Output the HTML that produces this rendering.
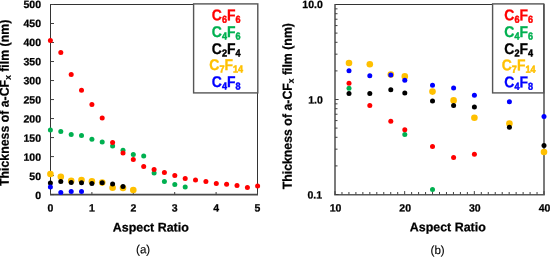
<!DOCTYPE html>
<html lang="en"><head><meta charset="utf-8"><title>a-CFx film thickness vs aspect ratio</title>
<style>
html,body{margin:0;padding:0;background:#fff}
body{width:550px;height:260px;overflow:hidden}
svg{display:block;will-change:transform}
text{font-family:"Liberation Sans",sans-serif}
.tk{font-size:10.5px;font-weight:700;stroke:#000;stroke-width:.25px}
.tt{font-size:12.45px;font-weight:700;stroke:#000;stroke-width:.25px}
.yt{font-size:13px;font-weight:700;stroke:#000;stroke-width:.25px}
.cp{font-size:11.6px;stroke:#000;stroke-width:.12px}
.lg{font-size:15.5px;font-weight:700;stroke-width:.3px}
.sb{font-size:10.1px;stroke-width:.5px}
.sb2{font-size:8.8px}
</style></head><body>
<svg width="550" height="260" viewBox="0 0 550 260">
<rect width="550" height="260" fill="#fff"/>
<path d="M50.0 4.5H258.0" fill="none" stroke="#333" stroke-width="1"/>
<path d="M50.5 4.5V194.7" fill="none" stroke="#333" stroke-width="1"/>
<path d="M257.5 4.5V194.7" fill="none" stroke="#333" stroke-width="1"/>
<path d="M50.0 194.7H258.0" fill="none" stroke="#4a4a4a" stroke-width="1.7"/>
<path d="M50.5 4.50h3.5M50.5 23.51h3.5M50.5 42.52h3.5M50.5 61.53h3.5M50.5 80.54h3.5M50.5 99.55h3.5M50.5 118.56h3.5M50.5 137.57h3.5M50.5 156.58h3.5M50.5 175.59h3.5M50.5 194.60h3.5M50.50 194.6v-2.6M91.90 194.6v-2.6M133.30 194.6v-2.6M174.70 194.6v-2.6M216.10 194.6v-2.6M257.50 194.6v-2.6" stroke="#404040" stroke-width="1" fill="none"/>
<path d="M334.5 4.5H544.5" fill="none" stroke="#333" stroke-width="1"/>
<path d="M335.0 4.5V194.8" fill="none" stroke="#5a5a5a" stroke-width="1.6"/>
<path d="M544.0 4.5V194.8" fill="none" stroke="#5a5a5a" stroke-width="1.6"/>
<path d="M334.2 194.8H544.8" fill="none" stroke="#5a5a5a" stroke-width="1.6"/>
<path d="M335.0 194.50h3.6M335.0 165.90h2.5M335.0 149.17h2.5M335.0 137.30h2.5M335.0 128.10h2.5M335.0 120.58h2.5M335.0 114.22h2.5M335.0 108.71h2.5M335.0 103.85h2.5M335.0 99.50h3.6M335.0 70.90h2.5M335.0 54.17h2.5M335.0 42.30h2.5M335.0 33.10h2.5M335.0 25.58h2.5M335.0 19.22h2.5M335.0 13.71h2.5M335.0 8.85h2.5M335.00 194.5v-3.4M341.97 194.5v-2.5M348.93 194.5v-2.5M355.90 194.5v-2.5M362.87 194.5v-2.5M369.83 194.5v-2.5M376.80 194.5v-2.5M383.77 194.5v-2.5M390.74 194.5v-2.5M397.70 194.5v-2.5M404.67 194.5v-3.4M411.64 194.5v-2.5M418.60 194.5v-2.5M425.57 194.5v-2.5M432.54 194.5v-2.5M439.50 194.5v-2.5M446.47 194.5v-2.5M453.44 194.5v-2.5M460.41 194.5v-2.5M467.37 194.5v-2.5M474.34 194.5v-3.4M481.31 194.5v-2.5M488.27 194.5v-2.5M495.24 194.5v-2.5M502.21 194.5v-2.5M509.17 194.5v-2.5M516.14 194.5v-2.5M523.11 194.5v-2.5M530.08 194.5v-2.5M537.04 194.5v-2.5M544.01 194.5v-3.4" stroke="#404040" stroke-width="1" fill="none"/>
<circle cx="50.4" cy="174" r="3.3" fill="#FFC000"/>
<circle cx="60.8" cy="176.8" r="3.3" fill="#FFC000"/>
<circle cx="71.2" cy="180.8" r="3.3" fill="#FFC000"/>
<circle cx="81.5" cy="180" r="3.3" fill="#FFC000"/>
<circle cx="91.9" cy="181.4" r="3.3" fill="#FFC000"/>
<circle cx="102.2" cy="182.6" r="3.3" fill="#FFC000"/>
<circle cx="112.6" cy="187.8" r="3.3" fill="#FFC000"/>
<circle cx="123" cy="188" r="3.3" fill="#FFC000"/>
<circle cx="133.3" cy="190" r="3.3" fill="#FFC000"/>
<circle cx="50.4" cy="130" r="2.5" fill="#00B050"/>
<circle cx="60.8" cy="131.4" r="2.5" fill="#00B050"/>
<circle cx="71.2" cy="134.6" r="2.5" fill="#00B050"/>
<circle cx="81.5" cy="135.6" r="2.5" fill="#00B050"/>
<circle cx="91.9" cy="139.2" r="2.5" fill="#00B050"/>
<circle cx="102.2" cy="142" r="2.5" fill="#00B050"/>
<circle cx="112.6" cy="146" r="2.5" fill="#00B050"/>
<circle cx="123" cy="150.2" r="2.5" fill="#00B050"/>
<circle cx="133.3" cy="154.4" r="2.5" fill="#00B050"/>
<circle cx="143.7" cy="156" r="2.5" fill="#00B050"/>
<circle cx="154.1" cy="173" r="2.5" fill="#00B050"/>
<circle cx="164.4" cy="181.6" r="2.5" fill="#00B050"/>
<circle cx="174.8" cy="184.4" r="2.5" fill="#00B050"/>
<circle cx="185.2" cy="187" r="2.5" fill="#00B050"/>
<circle cx="50.4" cy="40.6" r="2.5" fill="#FF0000"/>
<circle cx="60.8" cy="52.4" r="2.5" fill="#FF0000"/>
<circle cx="71.2" cy="74.6" r="2.5" fill="#FF0000"/>
<circle cx="81.5" cy="90.2" r="2.5" fill="#FF0000"/>
<circle cx="91.9" cy="104.6" r="2.5" fill="#FF0000"/>
<circle cx="102.2" cy="118" r="2.5" fill="#FF0000"/>
<circle cx="112.6" cy="142.6" r="2.5" fill="#FF0000"/>
<circle cx="123" cy="153" r="2.5" fill="#FF0000"/>
<circle cx="133.3" cy="159.4" r="2.5" fill="#FF0000"/>
<circle cx="143.7" cy="166.6" r="2.5" fill="#FF0000"/>
<circle cx="154.1" cy="169.6" r="2.5" fill="#FF0000"/>
<circle cx="164.4" cy="172.4" r="2.5" fill="#FF0000"/>
<circle cx="174.8" cy="175.6" r="2.5" fill="#FF0000"/>
<circle cx="185.2" cy="178.6" r="2.5" fill="#FF0000"/>
<circle cx="195.5" cy="180" r="2.5" fill="#FF0000"/>
<circle cx="205.9" cy="181.6" r="2.5" fill="#FF0000"/>
<circle cx="216.3" cy="183.6" r="2.5" fill="#FF0000"/>
<circle cx="226.6" cy="184.2" r="2.5" fill="#FF0000"/>
<circle cx="237" cy="185.6" r="2.5" fill="#FF0000"/>
<circle cx="247.4" cy="187.4" r="2.5" fill="#FF0000"/>
<circle cx="257.6" cy="186" r="2.5" fill="#FF0000"/>
<circle cx="50.4" cy="183" r="2.5" fill="#000000"/>
<circle cx="60.8" cy="181.6" r="2.5" fill="#000000"/>
<circle cx="71.2" cy="182.6" r="2.5" fill="#000000"/>
<circle cx="81.5" cy="182.8" r="2.5" fill="#000000"/>
<circle cx="91.9" cy="183.6" r="2.5" fill="#000000"/>
<circle cx="102.2" cy="182.8" r="2.5" fill="#000000"/>
<circle cx="112.6" cy="184" r="2.5" fill="#000000"/>
<circle cx="123" cy="186.5" r="2.5" fill="#000000"/>
<circle cx="50.4" cy="187" r="2.5" fill="#0000FF"/>
<circle cx="60.8" cy="192.6" r="2.5" fill="#0000FF"/>
<circle cx="71.2" cy="191.6" r="2.5" fill="#0000FF"/>
<circle cx="81.5" cy="191.6" r="2.5" fill="#0000FF"/>
<circle cx="349" cy="63" r="3.3" fill="#FFC000"/>
<circle cx="369.8" cy="64.3" r="3.3" fill="#FFC000"/>
<circle cx="390.8" cy="74.6" r="3.3" fill="#FFC000"/>
<circle cx="404.8" cy="76.4" r="3.3" fill="#FFC000"/>
<circle cx="432.5" cy="91.6" r="3.3" fill="#FFC000"/>
<circle cx="453.6" cy="100.4" r="3.3" fill="#FFC000"/>
<circle cx="474.4" cy="117.8" r="3.3" fill="#FFC000"/>
<circle cx="509.4" cy="123.6" r="3.3" fill="#FFC000"/>
<circle cx="544" cy="152" r="3.3" fill="#FFC000"/>
<circle cx="349" cy="88.3" r="2.5" fill="#00B050"/>
<circle cx="404.8" cy="134.4" r="2.5" fill="#00B050"/>
<circle cx="432.5" cy="189.6" r="2.5" fill="#00B050"/>
<circle cx="349" cy="83.3" r="2.5" fill="#FF0000"/>
<circle cx="369.8" cy="105.6" r="2.5" fill="#FF0000"/>
<circle cx="390.8" cy="121.2" r="2.5" fill="#FF0000"/>
<circle cx="404.8" cy="129.8" r="2.5" fill="#FF0000"/>
<circle cx="432.5" cy="146.4" r="2.5" fill="#FF0000"/>
<circle cx="453.6" cy="157.6" r="2.5" fill="#FF0000"/>
<circle cx="474.4" cy="154.2" r="2.5" fill="#FF0000"/>
<circle cx="349" cy="93.6" r="2.5" fill="#000000"/>
<circle cx="369.8" cy="93.6" r="2.5" fill="#000000"/>
<circle cx="390.8" cy="89.8" r="2.5" fill="#000000"/>
<circle cx="404.8" cy="93" r="2.5" fill="#000000"/>
<circle cx="432.5" cy="101" r="2.5" fill="#000000"/>
<circle cx="453.6" cy="105.4" r="2.5" fill="#000000"/>
<circle cx="474.4" cy="107" r="2.5" fill="#000000"/>
<circle cx="509.4" cy="127.3" r="2.5" fill="#000000"/>
<circle cx="544" cy="145.6" r="2.5" fill="#000000"/>
<circle cx="349" cy="70.8" r="2.5" fill="#0000FF"/>
<circle cx="369.8" cy="75.8" r="2.5" fill="#0000FF"/>
<circle cx="390.8" cy="75" r="2.5" fill="#0000FF"/>
<circle cx="404.8" cy="80.3" r="2.5" fill="#0000FF"/>
<circle cx="432.5" cy="85.2" r="2.5" fill="#0000FF"/>
<circle cx="453.6" cy="88" r="2.5" fill="#0000FF"/>
<circle cx="474.4" cy="95.2" r="2.5" fill="#0000FF"/>
<circle cx="509.4" cy="101.8" r="2.5" fill="#0000FF"/>
<circle cx="544" cy="116.4" r="2.5" fill="#0000FF"/>
<rect x="193.6" y="3.9" width="64.20000000000002" height="89.0" fill="#fff" stroke="#555" stroke-width="1.4"/>
<text transform="translate(226.2 20.30) rotate(0.03) scale(0.9 1)" text-anchor="middle" class="lg" fill="#FF0000" stroke="#FF0000">C<tspan class="sb" dy="2.5">6</tspan><tspan dy="-2.5">F</tspan><tspan class="sb" dy="2.5">6</tspan></text>
<text transform="translate(226.2 37.00) rotate(0.03) scale(0.9 1)" text-anchor="middle" class="lg" fill="#00B050" stroke="#00B050">C<tspan class="sb" dy="2.5">4</tspan><tspan dy="-2.5">F</tspan><tspan class="sb" dy="2.5">6</tspan></text>
<text transform="translate(226.2 54.00) rotate(0.03) scale(0.9 1)" text-anchor="middle" class="lg" fill="#000000" stroke="#000000">C<tspan class="sb" dy="2.5">2</tspan><tspan dy="-2.5">F</tspan><tspan class="sb" dy="2.5">4</tspan></text>
<text transform="translate(226.2 70.00) rotate(0.03) scale(0.9 1)" text-anchor="middle" class="lg" fill="#FFC000" stroke="#FFC000">C<tspan class="sb" dy="2.5">7</tspan><tspan dy="-2.5">F</tspan><tspan class="sb" dy="2.5">14</tspan></text>
<text transform="translate(226.2 86.90) rotate(0.03) scale(0.9 1)" text-anchor="middle" class="lg" fill="#0000FF" stroke="#0000FF">C<tspan class="sb" dy="2.5">4</tspan><tspan dy="-2.5">F</tspan><tspan class="sb" dy="2.5">8</tspan></text>
<rect x="492.6" y="3.9" width="51.10000000000002" height="89.0" fill="#fff" stroke="#555" stroke-width="1.4"/>
<text transform="translate(518.6500000000001 20.30) rotate(0.03) scale(0.9 1)" text-anchor="middle" class="lg" fill="#FF0000" stroke="#FF0000">C<tspan class="sb" dy="2.5">6</tspan><tspan dy="-2.5">F</tspan><tspan class="sb" dy="2.5">6</tspan></text>
<text transform="translate(518.6500000000001 37.00) rotate(0.03) scale(0.9 1)" text-anchor="middle" class="lg" fill="#00B050" stroke="#00B050">C<tspan class="sb" dy="2.5">4</tspan><tspan dy="-2.5">F</tspan><tspan class="sb" dy="2.5">6</tspan></text>
<text transform="translate(518.6500000000001 54.00) rotate(0.03) scale(0.9 1)" text-anchor="middle" class="lg" fill="#000000" stroke="#000000">C<tspan class="sb" dy="2.5">2</tspan><tspan dy="-2.5">F</tspan><tspan class="sb" dy="2.5">4</tspan></text>
<text transform="translate(518.6500000000001 70.30) rotate(0.03) scale(0.9 1)" text-anchor="middle" class="lg" fill="#FFC000" stroke="#FFC000">C<tspan class="sb" dy="2.5">7</tspan><tspan dy="-2.5">F</tspan><tspan class="sb" dy="2.5">14</tspan></text>
<text transform="translate(518.6500000000001 87.30) rotate(0.03) scale(0.9 1)" text-anchor="middle" class="lg" fill="#0000FF" stroke="#0000FF">C<tspan class="sb" dy="2.5">4</tspan><tspan dy="-2.5">F</tspan><tspan class="sb" dy="2.5">8</tspan></text>
<text transform="translate(41.0 7.90) rotate(0.03)" text-anchor="end" class="tk">500</text>
<text transform="translate(41.0 27.01) rotate(0.03)" text-anchor="end" class="tk">450</text>
<text transform="translate(41.0 46.12) rotate(0.03)" text-anchor="end" class="tk">400</text>
<text transform="translate(41.0 65.23) rotate(0.03)" text-anchor="end" class="tk">350</text>
<text transform="translate(41.0 84.34) rotate(0.03)" text-anchor="end" class="tk">300</text>
<text transform="translate(41.0 103.45) rotate(0.03)" text-anchor="end" class="tk">250</text>
<text transform="translate(41.0 122.56) rotate(0.03)" text-anchor="end" class="tk">200</text>
<text transform="translate(41.0 141.67) rotate(0.03)" text-anchor="end" class="tk">150</text>
<text transform="translate(41.0 160.78) rotate(0.03)" text-anchor="end" class="tk">100</text>
<text transform="translate(41.0 179.89) rotate(0.03)" text-anchor="end" class="tk">50</text>
<text transform="translate(41.0 199.00) rotate(0.03)" text-anchor="end" class="tk">0</text>
<text transform="translate(50.50 211.6) rotate(0.03)" text-anchor="middle" class="tk">0</text>
<text transform="translate(91.90 211.6) rotate(0.03)" text-anchor="middle" class="tk">1</text>
<text transform="translate(133.30 211.6) rotate(0.03)" text-anchor="middle" class="tk">2</text>
<text transform="translate(174.70 211.6) rotate(0.03)" text-anchor="middle" class="tk">3</text>
<text transform="translate(216.10 211.6) rotate(0.03)" text-anchor="middle" class="tk">4</text>
<text transform="translate(257.50 211.6) rotate(0.03)" text-anchor="middle" class="tk">5</text>
<text transform="translate(322.8 8.00) rotate(0.03)" text-anchor="end" class="tk">10.0</text>
<text transform="translate(322.8 103.60) rotate(0.03)" text-anchor="end" class="tk">1.0</text>
<text transform="translate(322.1 198.50) rotate(0.03)" text-anchor="end" class="tk">0.1</text>
<text transform="translate(335.50 211.6) rotate(0.03)" text-anchor="middle" class="tk">10</text>
<text transform="translate(405.17 211.6) rotate(0.03)" text-anchor="middle" class="tk">20</text>
<text transform="translate(474.84 211.6) rotate(0.03)" text-anchor="middle" class="tk">30</text>
<text transform="translate(544.51 211.6) rotate(0.03)" text-anchor="middle" class="tk">40</text>
<text transform="translate(150.8 231.4) rotate(0.03)" text-anchor="middle" class="tt">Aspect Ratio</text>
<text transform="translate(447.8 231.2) rotate(0.03)" text-anchor="middle" class="tt">Aspect Ratio</text>
<text transform="translate(143.1 253.2) rotate(0.03)" text-anchor="middle" class="cp">(a)</text>
<text transform="translate(437.6 254.0) rotate(0.03)" text-anchor="middle" class="cp">(b)</text>
<text transform="translate(8.8 102.9) rotate(-90.03) scale(0.95 1)" text-anchor="middle" class="yt">Thickness of a-CF<tspan class="sb2" dy="2">x</tspan><tspan dy="-2"> film (nm)</tspan></text>
<text transform="translate(291.8 106.2) rotate(-90.03) scale(0.95 1)" text-anchor="middle" class="yt">Thickness of a-CF<tspan class="sb2" dy="2">x</tspan><tspan dy="-2"> film (nm)</tspan></text>
</svg>
</body></html>
